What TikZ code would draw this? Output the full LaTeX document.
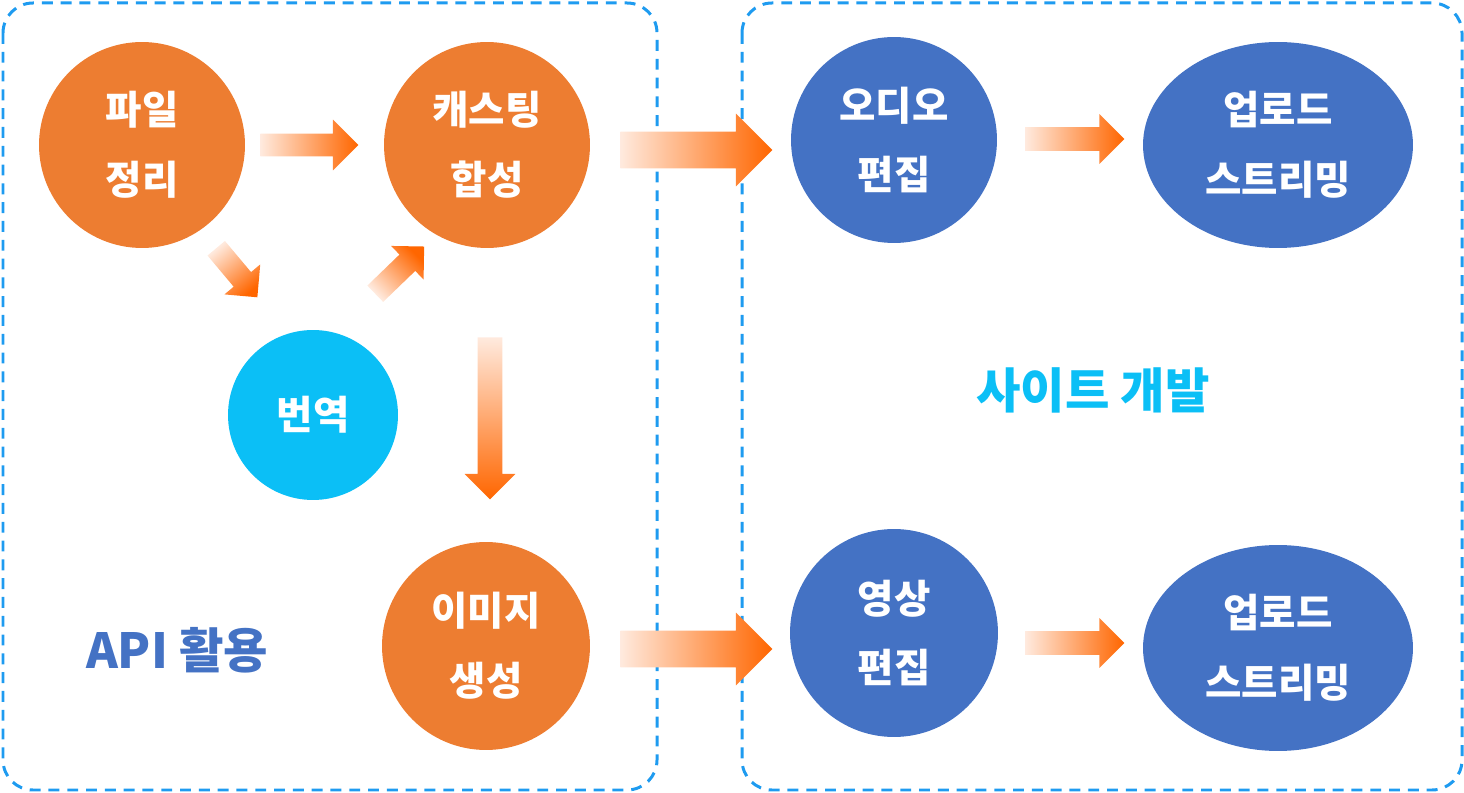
\documentclass[tikz,border=0pt]{standalone}
\usepackage{fontspec}
\setmainfont{Noto Sans CJK KR}
\usetikzlibrary{shapes.geometric,shapes.arrows}
\definecolor{Oc}{HTML}{ED7D31}
\definecolor{Bc}{HTML}{4472C4}
\definecolor{Cc}{HTML}{0BBFF6}
\definecolor{Dc}{HTML}{1E9BF0}
\definecolor{Tc}{HTML}{FFEADE}
\definecolor{Hc}{HTML}{FF6600}
\tikzset{
  panel/.style={draw=Dc, line width=1.7pt, dash pattern=on 6.2pt off 4.5pt, rounded corners=0.6cm},
  task/.style={circle, inner sep=0pt, minimum size=4.12cm, text=white, align=center,
    font=\fontsize{22.5}{39.8}\selectfont\bfseries},
  otask/.style={task, fill=Oc},
  btask/.style={task, fill=Bc},
  etask/.style={task, ellipse, fill=Bc, minimum width=5.4cm, minimum height=4.12cm},
  lab/.style={font=\fontsize{27.5}{32}\selectfont\bfseries},
  barrow/.style={single arrow, single arrow tip angle=90, inner xsep=0pt, anchor=tail,
    left color=Tc, right color=Hc},
  sarrow/.style={barrow, inner ysep=0.22cm, single arrow head extend=0.28cm, minimum height=1.96cm},
  larrow/.style={barrow, inner ysep=0.36cm, single arrow head extend=0.36cm, minimum height=3.04cm},
}
\begin{document}
\begin{tikzpicture}[x=0.02cm, y=-0.02cm]
  \useasboundingbox (0,0) rectangle (1464,793);
  % two work areas
  \draw[panel] (3,3) rectangle (657,790);
  \draw[panel] (742,3) rectangle (1462,790);
  % API side
  \node[otask] (file) at (142,145) {파일\\정리};
  \node[otask] (cast) at (487,145) {캐스팅\\합성};
  \node[task, fill=Cc, minimum size=3.4cm] (trans) at (313,415) {번역};
  \node[otask, minimum size=4.16cm] (img) at (486,646) {이미지\\생성};
  \node[lab, text=Bc] (api) at (177,650) {API 활용};
  % site side
  \node[btask] (audio) at (894,140) {오디오\\편집};
  \node[etask] (up1) at (1278,145) {업로드\\스트리밍};
  \node[btask, minimum size=4.16cm] (video) at (894,633) {영상\\편집};
  \node[etask] (up2) at (1278,648) {업로드\\스트리밍};
  \node[lab, text=Cc] (site) at (1093,390) {사이트 개발};
  % block arrows (shading angle = 90 + direction)
  \node[sarrow] (a1) at (260,145) {};
  \node[sarrow, single arrow head extend=0.24cm, minimum height=1.28cm, rotate=-50, shading angle=40] (a2) at (216,248) {};
  \node[sarrow, single arrow head extend=0.24cm, minimum height=1.36cm, rotate=44, shading angle=134] (a3) at (375,294) {};
  \node[sarrow, inner ysep=0.24cm, single arrow head extend=0.26cm, minimum height=3.24cm, rotate=-90, shading angle=0] (a4) at (490,337) {};
  \node[larrow] (a5) at (620,150) {};
  \node[larrow] (a6) at (620,649) {};
  \node[sarrow, inner ysep=0.23cm, single arrow head extend=0.26cm, minimum height=1.98cm] (a7) at (1025,139) {};
  \node[sarrow, inner ysep=0.23cm, single arrow head extend=0.26cm, minimum height=1.98cm] (a8) at (1025,643) {};
\end{tikzpicture}
\end{document}
